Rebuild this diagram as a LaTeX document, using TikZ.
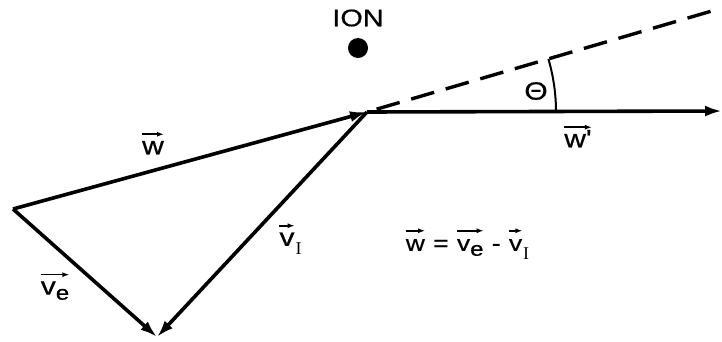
\documentclass[tikz,border=0pt]{standalone}
\usepackage{fontspec}
\setmainfont{Liberation Sans}
\newfontfamily\widesans[FakeStretch=1.2,FakeBold=0.6]{Liberation Sans}
\newfontfamily\serifI{Liberation Serif}
\usetikzlibrary{arrows.meta,calc}
\newcommand{\vecarrow}[2]{\tikz[baseline=(t.base)]{\node[inner sep=0pt,anchor=base](t) at (0,0){#1};\draw[line width=1.6pt,-{Latex[length=7pt,width=5pt]}] ([yshift=20pt]t.base west) -- ([yshift=20pt]t.base east);}#2}
\newcommand{\subI}{\raisebox{-9pt}{\serifI\fontsize{18}{18}\selectfont I}}
\newcommand{\sube}{\raisebox{-5pt}{\fontsize{20}{20}\selectfont e}}
\begin{document}
\begin{tikzpicture}[x=1pt,y=-1pt,
  vec/.style={line width=3.6pt,-{Latex[length=17pt,width=11pt]}},
  lab/.style={font=\widesans\fontsize{25}{27}\selectfont,inner sep=0pt}]
\useasboundingbox (0,0) rectangle (722,341);
\coordinate (L) at (13,209);
\coordinate (B) at (157,337);
\coordinate (J) at (367,112);
\coordinate (E) at (722,111);
\coordinate (D) at (722,8);
\node[circle,fill=black,minimum size=20pt,inner sep=0pt] (ion) at (358,48) {};
\node[font=\widesans\fontsize{24}{27}\selectfont,inner sep=0pt] (ionl) at (358,18) {ION};
\draw[vec] (L) -- (J);
\draw[vec] (J) -- (B);
\draw[vec] (L) -- (B);
\draw[vec] (J) -- (E);
\draw[line width=3.4pt,dash pattern=on 24pt off 12pt] ($(J)!10pt!(D)$) -- (D);
\draw[line width=2pt] ($(J)+(189,0)$) arc[start angle=0,end angle=-16.3,radius=189];
\node[lab] (th) at (536,91) {Θ};
\node[lab] (wl) at (153,143) {\vecarrow{w}{}};
\node[lab] (wpl) at (578,136) {\vecarrow{w'}{}};
\node[lab] (vil) at (290,239) {\vecarrow{v}{\subI}};
\node[lab] (vel) at (55,286) {\vecarrow{v\sube}{}};
\node[lab,font=\widesans\fontsize{22}{24}\selectfont] (eq) at (467,244) {\vecarrow{w}{} = \vecarrow{v\sube}{} - \vecarrow{v}{\subI}};
\end{tikzpicture}
\end{document}
